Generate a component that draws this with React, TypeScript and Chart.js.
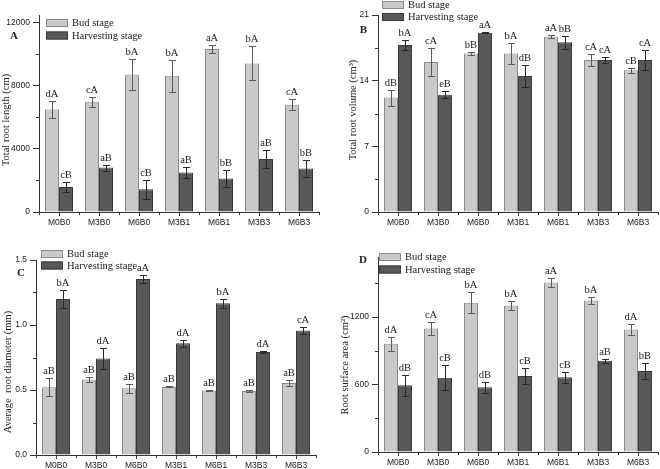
import React, { useEffect, useRef } from "react";
import { Chart, registerables } from "chart.js";
Chart.register(...registerables);

// ---------- DATA ----------
const categories = ["M0B0", "M3B0", "M6B0", "M3B1", "M6B1", "M3B3", "M6B3"];
const seriesNames = ["Bud stage", "Harvesting stage"];

// A: Total root length (cm)
const lengthBud = [6500, 6990, 8730, 8650, 10340, 9430, 6800];
const lengthBudErr = [520, 320, 990, 1020, 255, 1080, 340];
const lengthHarv = [1590, 2820, 1440, 2510, 2120, 3360, 2760];
const lengthHarvErr = [320, 190, 600, 370, 550, 570, 530];
const lengthBudLetters = ["dA", "cA", "bA", "bA", "aA", "bA", "cA"];
const lengthHarvLetters = ["cB", "aB", "cB", "aB", "bB", "aB", "bB"];
const lengthTicks = [0, 4000, 8000, 12000];

// B: Total root volume (cm3)
const volumeBud = [12.2, 16.0, 16.9, 16.9, 18.7, 16.2, 15.1];
const volumeBudErr = [0.85, 1.5, 0.14, 1.15, 0.16, 0.62, 0.3];
const volumeHarv = [17.8, 12.5, 19.1, 14.5, 18.1, 16.2, 16.2];
const volumeHarvErr = [0.53, 0.36, 0.05, 1.15, 0.7, 0.32, 1.07];
const volumeBudLetters = ["dB", "cA", "bB", "bA", "aA", "cA", "cB"];
const volumeHarvLetters = ["bA", "eB", "aA", "dB", "bB", "cA", "cA"];
const volumeTicks = [0, 7, 14, 21];

// C: Average root diameter (mm)
const diameterBud = [0.521, 0.58, 0.514, 0.524, 0.496, 0.493, 0.554];
const diameterBudErr = [0.07, 0.018, 0.036, 0.003, 0.002, 0.008, 0.02];
const diameterHarv = [1.2, 0.742, 1.353, 0.859, 1.167, 0.793, 0.958];
const diameterHarvErr = [0.07, 0.084, 0.032, 0.028, 0.034, 0.01, 0.027];
const diameterBudLetters = ["aB", "aB", "aB", "aB", "aB", "aB", "aB"];
const diameterHarvLetters = ["bA", "dA", "aA", "dA", "bA", "dA", "cA"];
const diameterTicks = [0, 0.5, 1.0, 1.5];

// D: Root surface area (cm2)
const areaBud = [963, 1099, 1327, 1304, 1508, 1348, 1090];
const areaBudErr = [64, 55, 93, 41, 36, 30, 46];
const areaHarv = [593, 661, 575, 676, 664, 812, 720];
const areaHarvErr = [92, 110, 47, 74, 47, 18, 68];
const areaBudLetters = ["dA", "cA", "bA", "bA", "aA", "bA", "dA"];
const areaHarvLetters = ["dB", "cB", "dB", "cB", "cB", "aB", "bB"];
const areaTicks = [0, 600, 1200];

// ---------- STYLE ----------
const SANS = "'Liberation Sans', Arial, sans-serif";
const SERIF = "'Liberation Serif', 'Times New Roman', serif";
const AXIS = "#333333";
const TEXT = "#222222";
const BUD_FILL = "#c9c9c9";
const BUD_LINE = "#8a8a8a";
const HARV_FILL = "#585858";
const HARV_LINE = "#3a3a3a";

type Panel = {
  x: number; y: number; w: number; h: number;
  area: { left: number; top: number; right: number; bottom: number };
  yMax: number; ticks: number[]; minorStep: number; decimals: number;
  bud: number[]; budErr: number[]; harv: number[]; harvErr: number[];
  budLab: string[]; harvLab: string[];
  title: string; titleX: number; titleY: number;
  letter: string; letterX: number; letterY: number;
  legendX: number; legendY: number; legendRow: number;
};

const panels: Panel[] = [
  {
    x: 0, y: 0, w: 330, h: 235,
    area: { left: 39, top: 15, right: 319, bottom: 212 },
    yMax: 12500, ticks: lengthTicks, minorStep: 2000, decimals: 0,
    bud: lengthBud, budErr: lengthBudErr, harv: lengthHarv, harvErr: lengthHarvErr,
    budLab: lengthBudLetters, harvLab: lengthHarvLetters,
    title: "Total root length (cm)", titleX: 6, titleY: 120,
    letter: "A", letterX: 14, letterY: 36,
    legendX: 46, legendY: 23, legendRow: 12.5,
  },
  {
    x: 330, y: 0, w: 330, h: 235,
    area: { left: 48, top: 15, right: 328, bottom: 212 },
    yMax: 21, ticks: volumeTicks, minorStep: 3.5, decimals: 0,
    bud: volumeBud, budErr: volumeBudErr, harv: volumeHarv, harvErr: volumeHarvErr,
    budLab: volumeBudLetters, harvLab: volumeHarvLetters,
    title: "Total root volume (cm\u00B3)", titleX: 23, titleY: 110,
    letter: "B", letterX: 33.5, letterY: 30,
    legendX: 52, legendY: 5, legendRow: 12,
  },
  {
    x: 0, y: 235, w: 330, h: 234,
    area: { left: 36, top: 25, right: 316, bottom: 220 },
    yMax: 1.5, ticks: diameterTicks, minorStep: 0.25, decimals: 1,
    bud: diameterBud, budErr: diameterBudErr, harv: diameterHarv, harvErr: diameterHarvErr,
    budLab: diameterBudLetters, harvLab: diameterHarvLetters,
    title: "Average  root diameter (mm)", titleX: 8, titleY: 137,
    letter: "C", letterX: 21, letterY: 38,
    legendX: 41, legendY: 19, legendRow: 11.5,
  },
  {
    x: 330, y: 235, w: 330, h: 234,
    area: { left: 48, top: 22, right: 328, bottom: 217 },
    yMax: 1735, ticks: areaTicks, minorStep: 300, decimals: 0,
    bud: areaBud, budErr: areaBudErr, harv: areaHarv, harvErr: areaHarvErr,
    budLab: areaBudLetters, harvLab: areaHarvLetters,
    title: "Root surface area (cm\u00B2)", titleX: 15, titleY: 130,
    letter: "D", letterX: 33, letterY: 25.5,
    legendX: 49, legendY: 22, legendRow: 12.5,
  },
];

function PanelChart({ p }: { p: Panel }) {
  const ref = useRef<HTMLCanvasElement>(null);
  useEffect(() => {
    const canvas = ref.current;
    if (!canvas) return;
    const extras = {
      id: "extras",
      afterDatasetsDraw(chart: any) {
        const ctx = chart.ctx;
        const ys = chart.scales.y;
        const sets: [number[], number[], string[], string][] = [
          [p.bud, p.budErr, p.budLab, "#5a5a5a"],
          [p.harv, p.harvErr, p.harvLab, "#2a2a2a"],
        ];
        sets.forEach(([vals, errs, labs, col], di) => {
          const meta = chart.getDatasetMeta(di);
          meta.data.forEach((bar: any, j: number) => {
            const x = Math.round(bar.x) + 0.5;
            const yT = Math.round(ys.getPixelForValue(vals[j] + errs[j])) + 0.5;
            const yB = Math.round(ys.getPixelForValue(vals[j] - errs[j])) + 0.5;
            ctx.save();
            ctx.strokeStyle = col;
            ctx.lineWidth = 1;
            ctx.beginPath();
            ctx.moveTo(x, yT); ctx.lineTo(x, yB);
            ctx.moveTo(x - 3.5, yT); ctx.lineTo(x + 3.5, yT);
            ctx.moveTo(x - 3.5, yB); ctx.lineTo(x + 3.5, yB);
            ctx.stroke();
            ctx.fillStyle = TEXT;
            ctx.font = `10.5px ${SERIF}`;
            ctx.textAlign = "center";
            ctx.textBaseline = "bottom";
            ctx.fillText(labs[j], bar.x, yT - 2);
            ctx.restore();
          });
        });
      },
      afterDraw(chart: any) {
        const ctx = chart.ctx;
        const ys = chart.scales.y;
        const xs = chart.scales.x;
        const ca = chart.chartArea;
        ctx.save();
        ctx.strokeStyle = AXIS;
        ctx.lineWidth = 1;
        ctx.beginPath();
        // minor y ticks
        for (let v = p.minorStep; v < p.yMax; v += p.minorStep * 2) {
          const yy = Math.round(ys.getPixelForValue(v)) + 0.5;
          ctx.moveTo(ca.left - 3, yy); ctx.lineTo(ca.left, yy);
        }
        // category boundary ticks on x
        for (let k = 0; k <= categories.length; k++) {
          const xx = Math.round(xs.getPixelForValue(k - 0.5)) + 0.5;
          ctx.moveTo(xx, ca.bottom); ctx.lineTo(xx, ca.bottom + 3);
        }
        ctx.stroke();

        // legend
        const dsets = chart.data.datasets;
        dsets.forEach((ds: any, i: number) => {
          const cy = p.legendY + i * p.legendRow;
          ctx.fillStyle = ds.backgroundColor;
          ctx.fillRect(p.legendX, cy - 4, 22, 8);
          ctx.strokeStyle = ds.borderColor;
          ctx.strokeRect(p.legendX + 0.5, cy - 3.5, 21, 7);
          ctx.fillStyle = TEXT;
          ctx.font = `10.5px ${SERIF}`;
          ctx.textAlign = "left";
          ctx.textBaseline = "middle";
          ctx.fillText(ds.label, p.legendX + 26, cy + 0.5);
        });

        // panel letter
        ctx.fillStyle = TEXT;
        ctx.font = `bold 11px ${SERIF}`;
        ctx.textAlign = "center";
        ctx.textBaseline = "middle";
        ctx.fillText(p.letter, p.letterX, p.letterY);

        // axis title
        ctx.translate(p.titleX, p.titleY);
        ctx.rotate(-Math.PI / 2);
        ctx.font = `10.5px ${SERIF}`;
        ctx.textAlign = "center";
        ctx.textBaseline = "middle";
        ctx.fillText(p.title, 0, 0);
        ctx.restore();
      },
    };

    const chart = new Chart(canvas, {
      type: "bar",
      data: {
        labels: categories,
        datasets: [
          { label: seriesNames[0], data: p.bud, backgroundColor: BUD_FILL, borderColor: BUD_LINE, borderWidth: 1 },
          { label: seriesNames[1], data: p.harv, backgroundColor: HARV_FILL, borderColor: HARV_LINE, borderWidth: 1 },
        ],
      },
      options: {
        responsive: false,
        animation: false,
        devicePixelRatio: 1,
        layout: { padding: { left: 0, top: p.area.top, right: p.w - p.area.right, bottom: 0 } },
        plugins: { legend: { display: false }, tooltip: { enabled: false } },
        datasets: { bar: { categoryPercentage: 0.7, barPercentage: 1 } },
        scales: {
          x: {
            offset: true,
            grid: { offset: false, drawOnChartArea: false, drawTicks: true, tickLength: 4, color: AXIS },
            border: { display: true, color: AXIS, width: 1 },
            ticks: { font: { family: SANS, size: 8.5 }, color: TEXT, padding: 2, maxRotation: 0, autoSkip: false },
            afterFit: (s: any) => { s.height = p.h - p.area.bottom; },
          },
          y: {
            min: 0,
            max: p.yMax,
            grid: { drawOnChartArea: false, drawTicks: true, tickLength: 6, color: AXIS },
            border: { display: true, color: AXIS, width: 1 },
            ticks: {
              font: { family: SANS, size: 8.5 },
              color: TEXT,
              padding: 3,
              callback: (v: any) => Number(v).toFixed(p.decimals),
            },
            afterBuildTicks: (s: any) => { s.ticks = p.ticks.map((v) => ({ value: v })); },
            afterFit: (s: any) => { s.width = p.area.left; },
          },
        },
      } as any,
      plugins: [extras],
    });
    return () => chart.destroy();
  }, [p]);
  return (
    <canvas
      ref={ref}
      width={p.w}
      height={p.h}
      style={{ position: "absolute", left: p.x, top: p.y, width: p.w, height: p.h }}
    />
  );
}

export default function App() {
  return (
    <div style={{ position: "absolute", left: 0, top: 0, width: 660, height: 469, background: "#ffffff", overflow: "hidden" }}>
      {panels.map((p, i) => (
        <PanelChart key={i} p={p} />
      ))}
    </div>
  );
}
